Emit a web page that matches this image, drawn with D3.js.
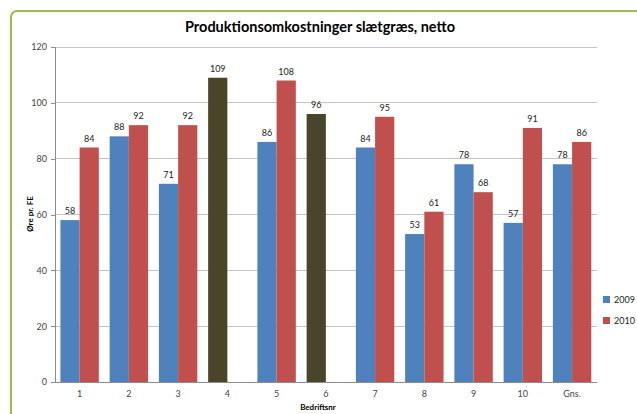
<!DOCTYPE html>
<html><head><meta charset="utf-8">
<script src="https://cdn.jsdelivr.net/npm/d3@7"></script>
<style>
html,body{margin:0;padding:0;background:#fff;}
svg{display:block;}
text{font-family:Lato,"Open Sans",sans-serif;}
</style></head>
<body>
<svg id="c" width="637" height="414"></svg>
<script>
const categories = ["1","2","3","4","5","6","7","8","9","10","Gns."];
const series = ["2009","2010"];
const values2009 = [58, 88, 71, 109, 86, 96, 84, 53, 78, 57, 78];
const values2010 = [84, 92, 92, null, 108, null, 95, 61, 68, 91, 86];
const yTicks = [0, 20, 40, 60, 80, 100, 120];
const highlightCats = ["4","6"];
const title = "Produktionsomkostninger slætgræs, netto";
const yTitle = "Øre pr. FE";
const xTitle = "Bedriftsnr";

const colors = {"2009":"#4F81BD","2010":"#C0504D"};
const highlightColor = "#4A4429";

const svg = d3.select("#c");
const M = {left:55, right:596.7, top:47, bottom:382};

// chart frame
svg.append("rect").attr("x",11).attr("y",11).attr("width",700).attr("height",500)
  .attr("rx",6).attr("fill","#fff").attr("stroke","#9BBB59").attr("stroke-width",2.2);

svg.append("text").attr("x",320).attr("y",32).attr("text-anchor","middle")
  .attr("font-size",14.5).attr("font-weight","bold").attr("fill","#000").text(title);

const x0 = d3.scaleBand().domain(categories).range([M.left,M.right]).paddingInner(0).paddingOuter(0);
const bw = x0.bandwidth();
const gap = bw*0.22;
const x1 = d3.scaleBand().domain(series).range([gap/2, bw-gap/2]).padding(0);
const y = d3.scaleLinear().domain([0,120]).range([M.bottom,M.top]);

// gridlines
svg.append("g").selectAll("line").data(yTicks.filter(d=>d>0)).join("line")
  .attr("x1",M.left).attr("x2",M.right).attr("y1",d=>y(d)).attr("y2",d=>y(d))
  .attr("stroke","#C4C4C4").attr("stroke-width",1).attr("shape-rendering","crispEdges");

// y axis
const yAxis = svg.append("g").attr("transform",`translate(${M.left},0)`)
  .call(d3.axisLeft(y).tickValues(yTicks).tickSize(4).tickPadding(4));
yAxis.select(".domain").attr("stroke","#8C8C8C").attr("shape-rendering","crispEdges");
yAxis.selectAll(".tick line").attr("stroke","#8C8C8C").attr("shape-rendering","crispEdges");
yAxis.selectAll(".tick text").attr("font-size",9).attr("fill","#444").attr("font-family","Lato,sans-serif");

// x axis
const xAxis = svg.append("g").attr("transform",`translate(0,${M.bottom})`)
  .call(d3.axisBottom(x0).tickSize(0).tickPadding(9));
xAxis.select(".domain").attr("stroke","#8C8C8C").attr("shape-rendering","crispEdges");
xAxis.selectAll(".tick text").attr("font-size",9).attr("fill","#444").attr("font-family","Lato,sans-serif");

// bars
const rows = [];
categories.forEach((c,i)=>{
  rows.push({cat:c, s:"2009", v:values2009[i]});
  rows.push({cat:c, s:"2010", v:values2010[i]});
});
const data = rows.filter(d=>d.v!==null);
const color = d => (d.s==="2009" && highlightCats.includes(d.cat)) ? highlightColor : colors[d.s];

svg.append("g").selectAll("rect").data(data).join("rect")
  .attr("x",d=>x0(d.cat)+x1(d.s)).attr("width",x1.bandwidth())
  .attr("y",d=>y(d.v)).attr("height",d=>y(0)-y(d.v))
  .attr("fill",color);

svg.append("g").selectAll("text").data(data).join("text")
  .attr("x",d=>x0(d.cat)+x1(d.s)+x1.bandwidth()/2).attr("y",d=>y(d.v)-6)
  .attr("text-anchor","middle").attr("font-size",9).attr("fill","#222")
  .text(d=>d.v);

// axis titles
svg.append("text").attr("transform",`translate(33,214) rotate(-90)`).attr("text-anchor","middle")
  .attr("font-size",8).attr("font-weight","bold").attr("fill","#000").text(yTitle);
svg.append("text").attr("x",318).attr("y",410).attr("text-anchor","middle")
  .attr("font-size",8).attr("font-weight","bold").attr("fill","#000").text(xTitle);

// legend
const lg = svg.append("g").attr("transform","translate(603,296)");
series.forEach((s,i)=>{
  const g = lg.append("g").attr("transform",`translate(0,${i*21})`);
  g.append("rect").attr("x",0).attr("y",0).attr("width",7).attr("height",7).attr("fill",colors[s]);
  g.append("text").attr("x",11).attr("y",7).attr("font-size",9).attr("fill","#222").text(s);
});
</script>
</body></html>
